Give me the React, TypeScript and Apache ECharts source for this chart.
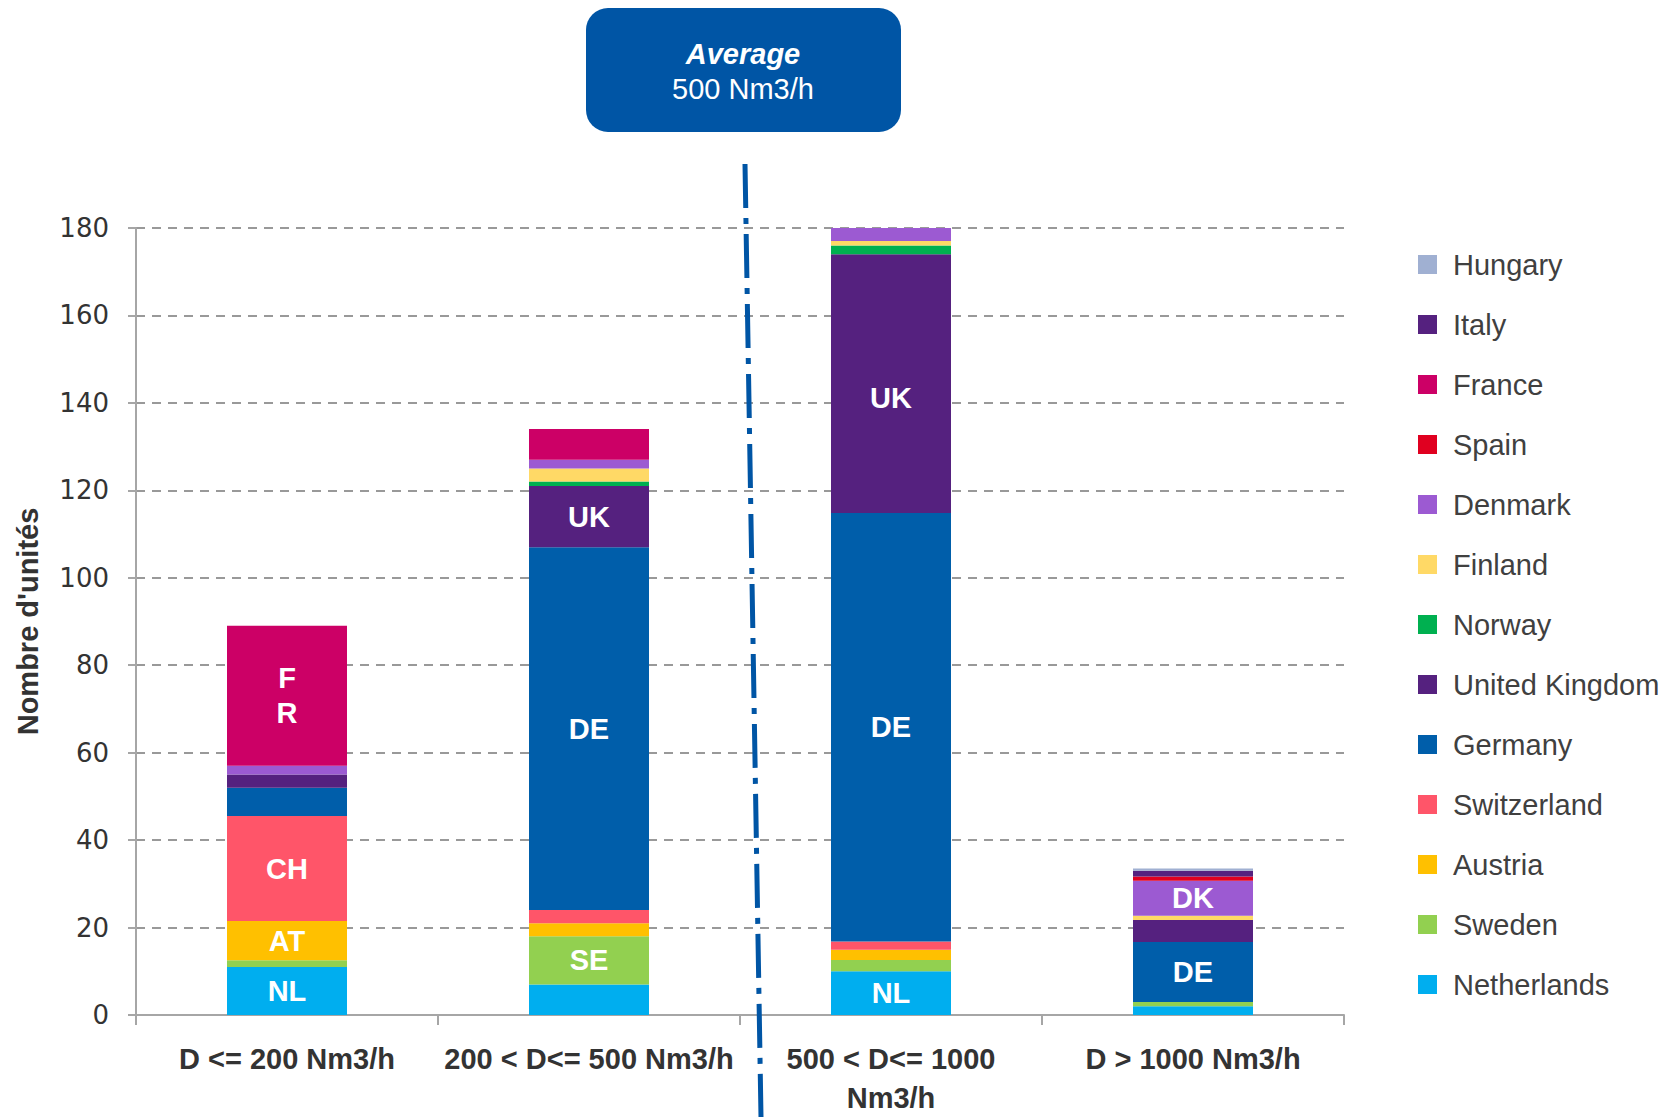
import React, { useEffect, useRef } from "react";
import * as echarts from "echarts";

const categories = ["D <= 200 Nm3/h", "200 < D<= 500 Nm3/h", "500 < D<= 1000\nNm3/h", "D > 1000 Nm3/h"];
const yTicks = [0, 20, 40, 60, 80, 100, 120, 140, 160, 180];

// stacking order bottom -> top
const countries = [
  "Netherlands", "Sweden", "Austria", "Switzerland", "Germany", "United Kingdom",
  "Norway", "Finland", "Denmark", "Spain", "France", "Italy", "Hungary",
];
const colors = [
  "#00AEEF", "#92D050", "#FFC000", "#FF5569", "#005EAA", "#55217F",
  "#00B050", "#FFD966", "#9C5AD2", "#E00020", "#CC0066", "#55217F", "#A0B0D2",
];

const netherlands = [11, 7, 10, 2];
const sweden = [1.5, 11, 2.6, 1];
const austria = [9, 3, 2.3, 0];
const switzerland = [24, 3, 1.9, 0];
const germany = [6.5, 83, 98, 13.7];
const unitedKingdom = [3, 14, 59.2, 5];
const norway = [0, 1, 2, 0];
const finland = [0, 3, 1, 1];
const denmark = [2, 2, 3, 8];
const spain = [0, 0, 0, 1];
const france = [32, 7, 0, 0];
const italy = [0, 0, 0, 1.3];
const hungary = [0, 0, 0, 0.5];

const values = [
  netherlands, sweden, austria, switzerland, germany, unitedKingdom,
  norway, finland, denmark, spain, france, italy, hungary,
];

// in-bar labels per country per category
const netherlandsLabels = ["NL", "", "NL", ""];
const swedenLabels = ["", "SE", "", ""];
const austriaLabels = ["AT", "", "", ""];
const switzerlandLabels = ["CH", "", "", ""];
const germanyLabels = ["", "DE", "DE", "DE"];
const ukLabels = ["", "UK", "UK", ""];
const denmarkLabels = ["", "", "", "DK"];
const franceLabels = ["F\nR", "", "", ""];
const emptyLabels = ["", "", "", ""];
const labels = [
  netherlandsLabels, swedenLabels, austriaLabels, switzerlandLabels, germanyLabels, ukLabels,
  emptyLabels, emptyLabels, denmarkLabels, emptyLabels, franceLabels, emptyLabels, emptyLabels,
];

const legendOrder = [...countries].reverse();

export default function App() {
  const ref = useRef<HTMLDivElement>(null);
  useEffect(() => {
    if (!ref.current) return;
    const chart = echarts.init(ref.current, null, { renderer: "svg" });
    const series = countries.map((name, i) => ({
      name,
      type: "bar",
      stack: "total",
      barWidth: 120,
      itemStyle: { color: colors[i] },
      data: values[i].map((v, j) => {
        const t = labels[i][j];
        return {
          value: v,
          label: t
            ? {
                show: true,
                position: "inside",
                formatter: t,
                offset: name === "United Kingdom" && j === 2 ? [0, 14] : [0, 0],
                color: "#ffffff",
                fontFamily: "Liberation Sans, Arial, sans-serif",
                fontWeight: "bold",
                fontSize: 29,
                lineHeight: 35,
              }
            : { show: false },
        };
      }),
    }));
    chart.setOption({
      animation: false,
      backgroundColor: "#ffffff",
      grid: { left: 136, right: 331, top: 228, bottom: 84, containLabel: false },
      legend: {
        data: legendOrder,
        orient: "vertical",
        left: 1413,
        top: 245,
        icon: "rect",
        itemWidth: 19,
        itemHeight: 19,
        itemGap: 31,
        selectedMode: false,
        textStyle: {
          fontFamily: "Liberation Sans, Arial, sans-serif",
          fontSize: 29,
          lineHeight: 28,
          color: "#404040",
          padding: [0, 0, 0, 11],
        },
      },
      xAxis: {
        type: "category",
        data: categories,
        axisLine: { lineStyle: { color: "#A6A6A6", width: 2 } },
        axisTick: { show: true, length: 10, lineStyle: { color: "#A6A6A6", width: 2 } },
        axisLabel: {
          interval: 0,
          margin: 24,
          color: "#333333",
          fontFamily: "Liberation Sans, Arial, sans-serif",
          fontWeight: "bold",
          fontSize: 29,
          lineHeight: 39,
        },
      },
      yAxis: {
        type: "value",
        min: 0,
        max: 180,
        interval: 20,
        name: "Nombre d'unités",
        nameLocation: "middle",
        nameGap: 94,
        nameTextStyle: {
          fontFamily: "Liberation Sans, Arial, sans-serif",
          fontWeight: "bold",
          fontSize: 29,
          color: "#333333",
        },
        axisLine: { show: true, lineStyle: { color: "#A6A6A6", width: 2 } },
        axisTick: { show: true, length: 8, lineStyle: { color: "#A6A6A6", width: 2 } },
        axisLabel: {
          margin: 27,
          color: "#333333",
          fontFamily: "DejaVu Sans, Verdana, sans-serif",
          fontSize: 26,
          formatter: (v: number) => (yTicks.includes(v) ? String(v) : ""),
        },
        splitLine: {
          show: true,
          lineStyle: { color: "#999999", width: 2, type: [9, 7] },
        },
      },
      graphic: [
        {
          type: "line",
          z: 100,
          shape: { x1: 745, y1: 164, x2: 761, y2: 1117 },
          style: { stroke: "#0055A5", lineWidth: 5, lineDash: [44, 10, 6, 10] },
        },
        {
          type: "rect",
          z: 100,
          shape: { x: 586, y: 8, width: 315, height: 124, r: 22 },
          style: { fill: "#0055A5" },
        },
        {
          type: "text",
          z: 101,
          x: 743,
          y: 54,
          style: {
            text: "Average",
            fill: "#ffffff",
            font: "italic bold 29px 'Liberation Sans', Arial, sans-serif",
            align: "center",
            verticalAlign: "middle",
          },
        },
        {
          type: "text",
          z: 101,
          x: 743,
          y: 89,
          style: {
            text: "500 Nm3/h",
            fill: "#ffffff",
            font: "29px 'Liberation Sans', Arial, sans-serif",
            align: "center",
            verticalAlign: "middle",
          },
        },
      ],
      series,
    });
    return () => chart.dispose();
  }, []);
  return (
    <div
      ref={ref}
      style={{ position: "fixed", left: 0, top: 0, width: 1675, height: 1117, background: "#fff" }}
    />
  );
}
